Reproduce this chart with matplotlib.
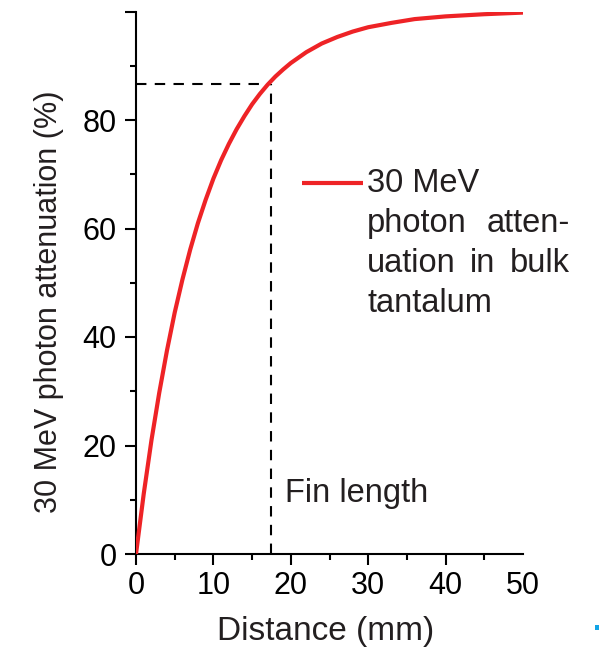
import matplotlib
matplotlib.use("Agg")
import matplotlib.pyplot as plt
from matplotlib.ticker import MultipleLocator
from matplotlib.lines import Line2D
from matplotlib.patches import Rectangle

plt.rcParams["font.family"] = ["Liberation Sans", "DejaVu Sans"]

# Attenuation of 30 MeV photons in bulk tantalum
distance_mm = [0, 1, 2, 3, 4, 5, 6, 7, 8, 9, 10, 11, 12, 13, 14, 15, 16, 17,
               18, 19, 20, 22, 24, 26, 28, 30, 33, 36, 40, 45, 50]
attenuation_pct = [0.0, 11.1, 21.0, 29.7, 37.5, 44.5, 50.6, 56.1, 61.0, 65.3,
                   69.2, 72.6, 75.6, 78.3, 80.7, 82.9, 84.8, 86.5, 88.0, 89.3,
                   90.5, 92.5, 94.1, 95.3, 96.3, 97.1, 97.9, 98.6, 99.1, 99.5,
                   99.8]

fin_length_mm = 17.5
fin_attenuation_pct = 86.6

x_ticks = [0, 10, 20, 30, 40, 50]
y_ticks = [0, 20, 40, 60, 80, 100]
y_tick_labels = ["0", "20", "40", "60", "80", ""]

# caption lines; True marks lines that are set justified
legend_lines = [("30 MeV", False), ("photon atten-", True),
                ("uation in bulk", True), ("tantalum", False)]

RED = "#ee2326"
INK = "#231f20"
TICK_FS = 22
LABEL_FS = 24
TEXT_FS = 23.5

W, H = 601, 649
fig = plt.figure(figsize=(W / 100, H / 100), dpi=100)
ax = fig.add_axes([136 / W, 1 - 554 / H, 387 / W, 542.5 / H])

ax.plot(distance_mm, attenuation_pct, color=RED, lw=3.0, solid_capstyle="butt",
        zorder=3)

dash = (0, (5.0, 4.0))
ax.plot([0, fin_length_mm], [fin_attenuation_pct, fin_attenuation_pct],
        color="black", lw=1.5, linestyle=dash, zorder=2)
ax.plot([fin_length_mm, fin_length_mm], [0, fin_attenuation_pct],
        color="black", lw=1.5, linestyle=dash, zorder=2)

ax.set_xlim(0, 50)
ax.set_ylim(0, 100)
ax.set_xticks(x_ticks)
ax.set_yticks(y_ticks)
ax.set_yticklabels(y_tick_labels)
ax.xaxis.set_minor_locator(MultipleLocator(5))
ax.yaxis.set_minor_locator(MultipleLocator(10))

for s in ["top", "right"]:
    ax.spines[s].set_visible(False)
for s in ["left", "bottom"]:
    ax.spines[s].set_linewidth(1.5)

ax.tick_params(which="major", direction="out", length=8, width=1.5,
               labelsize=TICK_FS, color="black")
ax.tick_params(which="minor", direction="out", length=4.3, width=1.5)
ax.tick_params(axis="x", which="major", pad=4.5)
ax.tick_params(axis="y", which="major", pad=6)
# the last x tick at 50 has no tick mark
ax.xaxis.get_major_ticks()[-1].tick1line.set_visible(False)

ax.set_xlabel("Distance (mm)", fontsize=LABEL_FS, color=INK)
ax.set_ylabel("30 MeV photon attenuation (%)", fontsize=22, color=INK)
ax.xaxis.set_label_coords(0.491, -0.114)
ax.yaxis.set_label_coords(-0.185, 0.465)

ax.text(19.25, 9.6, "Fin length", fontsize=TEXT_FS, color=INK,
        ha="left", va="baseline")

# legend key and justified caption
ax.add_line(Line2D([21.4, 29.3], [68.4, 68.4], color=RED, lw=3.0,
                   solid_capstyle="butt"))

renderer = fig.canvas.get_renderer()
left_px, right_px = 367, 570
base_px = [191.7, 231.7, 271.7, 312.0]
for (line, justified), bpx in zip(legend_lines, base_px):
    y_fig = 1 - bpx / H
    if not justified:
        fig.text(left_px / W, y_fig, line, fontsize=TEXT_FS, color=INK,
                 va="baseline", ha="left")
        continue
    words = line.split()
    texts = [fig.text(0, y_fig, w, fontsize=TEXT_FS, color=INK,
                      va="baseline", ha="left") for w in words]
    widths = [t.get_window_extent(renderer).width for t in texts]
    gap = (right_px - left_px - sum(widths)) / (len(words) - 1)
    x = left_px
    for t, wd in zip(texts, widths):
        t.set_position((x / W, y_fig))
        x += wd + gap

fig.patches.append(Rectangle((595 / W, 1 - 630 / H), 4 / W, 5 / H,
                             transform=fig.transFigure, color="#12a4e6",
                             lw=0))

fig.savefig("out.png", dpi=100)
